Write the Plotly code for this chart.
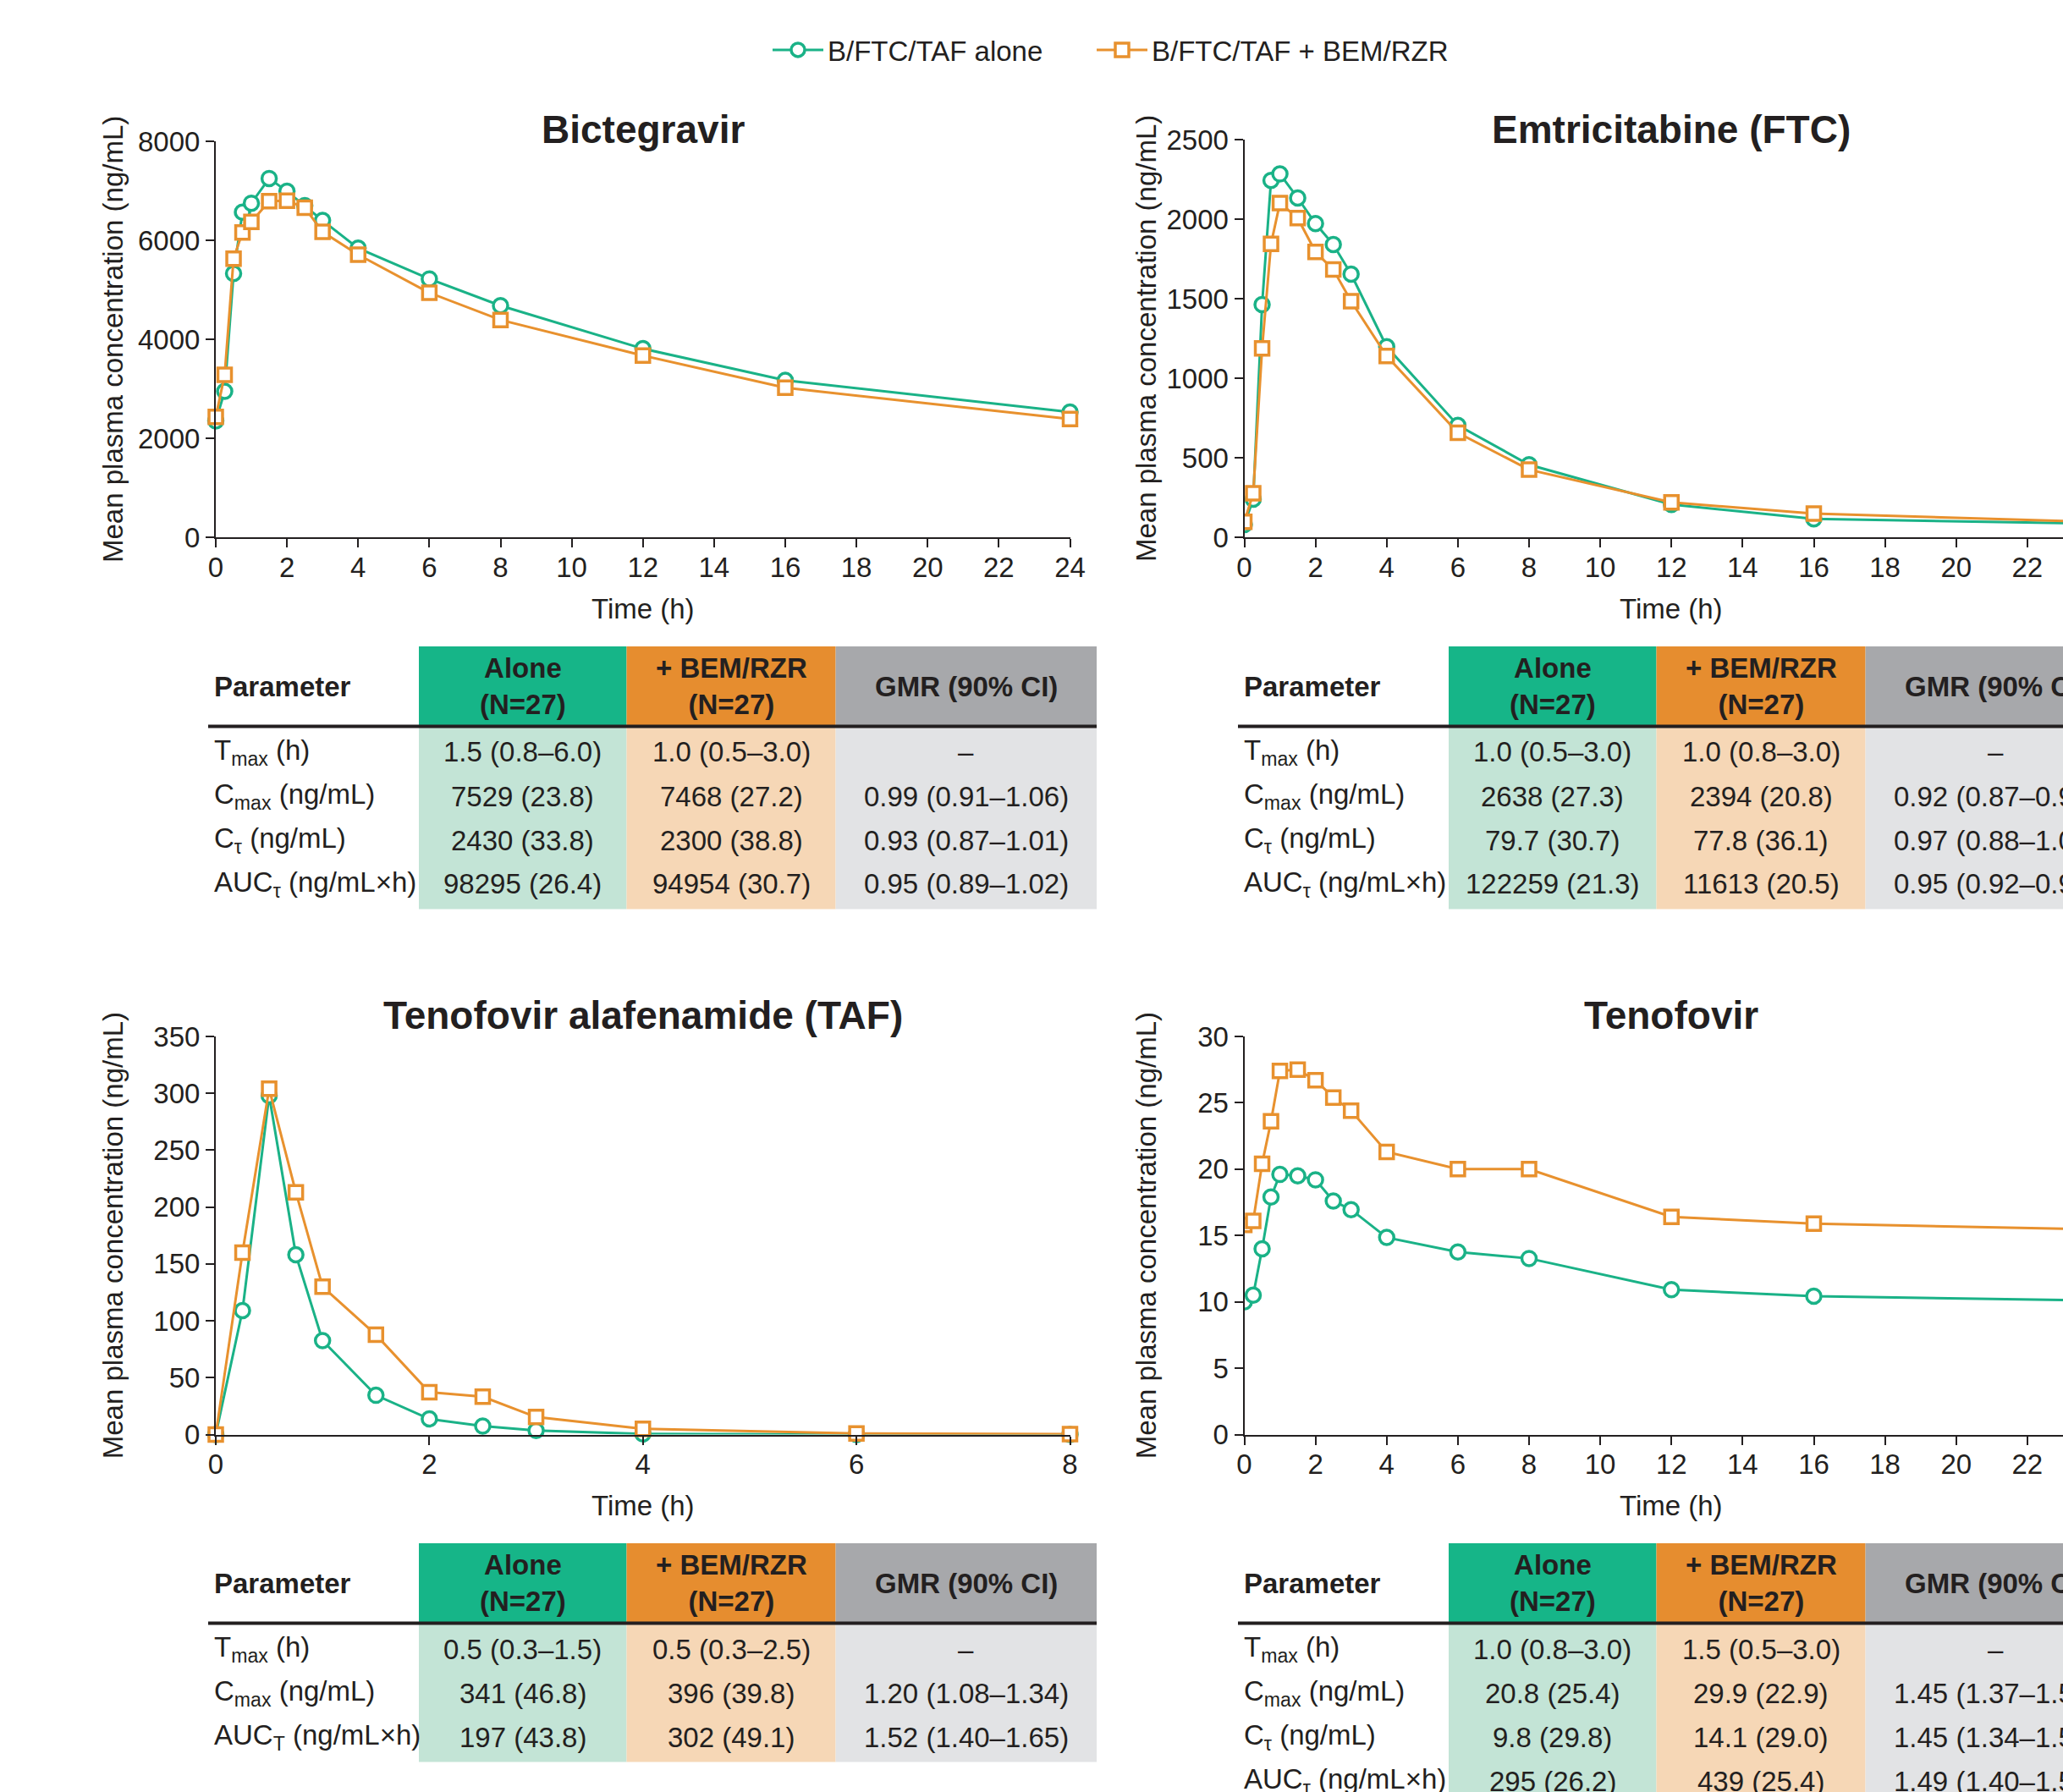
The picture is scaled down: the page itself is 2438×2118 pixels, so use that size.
import plotly.graph_objects as go

# ---------------- data ----------------
time_24 = [0, 0.25, 0.5, 0.75, 1, 1.5, 2, 2.5, 3, 4, 6, 8, 12, 16, 24]
time_8 = [0, 0.25, 0.5, 0.75, 1, 1.5, 2, 2.5, 3, 4, 6, 8]

bic_alone = [2350, 2950, 5330, 6570, 6750, 7250, 6990, 6700, 6400, 5840, 5220, 4680, 3810, 3170, 2530]
bic_bem = [2430, 3280, 5630, 6160, 6370, 6790, 6800, 6660, 6170, 5710, 4940, 4390, 3670, 3020, 2390]

ftc_alone = [80, 239, 1463, 2243, 2284, 2133, 1972, 1840, 1654, 1198, 704, 456, 206, 116, 85]
ftc_bem = [97, 276, 1188, 1844, 2101, 2007, 1794, 1683, 1484, 1139, 657, 425, 219, 149, 95]

taf_alone = [0, 109, 298, 158, 82.6, 34.5, 13.7, 7.4, 3.5, 0.5, 0, 0]
taf_bem = [0, 160, 304, 213, 130, 87.7, 37.2, 33.3, 15.4, 5, 1, 0.3]

tfv_alone = [10.0, 10.5, 14.0, 17.9, 19.6, 19.5, 19.2, 17.6, 16.95, 14.85, 13.76, 13.27, 10.92, 10.42, 10.1]
tfv_bem = [15.8, 16.1, 20.4, 23.6, 27.4, 27.5, 26.7, 25.4, 24.4, 21.3, 20.0, 20.0, 16.4, 15.9, 15.45]

series_names = ["B/FTC/TAF alone", "B/FTC/TAF + BEM/RZR"]
panel_titles = ["Bictegravir", "Emtricitabine (FTC)", "Tenofovir alafenamide (TAF)", "Tenofovir"]
y_ticks_bic = [0, 2000, 4000, 6000, 8000]
y_ticks_ftc = [0, 500, 1000, 1500, 2000, 2500]
y_ticks_taf = [0, 50, 100, 150, 200, 250, 300, 350]
y_ticks_tfv = [0, 5, 10, 15, 20, 25, 30]
x_ticks_24 = list(range(0, 25, 2))
x_ticks_8 = [0, 2, 4, 6, 8]
x_title = "Time (h)"
y_title = "Mean plasma concentration (ng/mL)"

hdr_labels = ["Parameter", "Alone<br>(N=27)", "+ BEM/RZR<br>(N=27)", "GMR (90% CI)"]

bic_params = ["T<sub>max</sub> (h)", "C<sub>max</sub> (ng/mL)", "C<sub>τ</sub> (ng/mL)", "AUC<sub>τ</sub> (ng/mL×h)"]
bic_alone_tab = ["1.5 (0.8–6.0)", "7529 (23.8)", "2430 (33.8)", "98295 (26.4)"]
bic_bem_tab = ["1.0 (0.5–3.0)", "7468 (27.2)", "2300 (38.8)", "94954 (30.7)"]
bic_gmr_tab = ["–", "0.99 (0.91–1.06)", "0.93 (0.87–1.01)", "0.95 (0.89–1.02)"]

ftc_params = ["T<sub>max</sub> (h)", "C<sub>max</sub> (ng/mL)", "C<sub>τ</sub> (ng/mL)", "AUC<sub>τ</sub> (ng/mL×h)"]
ftc_alone_tab = ["1.0 (0.5–3.0)", "2638 (27.3)", "79.7 (30.7)", "122259 (21.3)"]
ftc_bem_tab = ["1.0 (0.8–3.0)", "2394 (20.8)", "77.8 (36.1)", "11613 (20.5)"]
ftc_gmr_tab = ["–", "0.92 (0.87–0.97)", "0.97 (0.88–1.07)", "0.95 (0.92–0.98)"]

taf_params = ["T<sub>max</sub> (h)", "C<sub>max</sub> (ng/mL)", "AUC<sub>T</sub> (ng/mL×h)"]
taf_alone_tab = ["0.5 (0.3–1.5)", "341 (46.8)", "197 (43.8)"]
taf_bem_tab = ["0.5 (0.3–2.5)", "396 (39.8)", "302 (49.1)"]
taf_gmr_tab = ["–", "1.20 (1.08–1.34)", "1.52 (1.40–1.65)"]

tfv_params = ["T<sub>max</sub> (h)", "C<sub>max</sub> (ng/mL)", "C<sub>τ</sub> (ng/mL)", "AUC<sub>τ</sub> (ng/mL×h)"]
tfv_alone_tab = ["1.0 (0.8–3.0)", "20.8 (25.4)", "9.8 (29.8)", "295 (26.2)"]
tfv_bem_tab = ["1.5 (0.5–3.0)", "29.9 (22.9)", "14.1 (29.0)", "439 (25.4)"]
tfv_gmr_tab = ["–", "1.45 (1.37–1.54)", "1.45 (1.34–1.57)", "1.49 (1.40–1.59)"]

# ---------------- styling ----------------
W, H = 2438, 2118
FONT = "Arial, 'Liberation Sans', Helvetica, sans-serif"
DARK = "#231F20"
GREEN = "#1AB287"
ORANGE = "#E8912E"
HDR = ["#FFFFFF", "#16B588", "#E68D2F", "#A7A8AB"]
BODY = ["#FFFFFF", "#C3E4D6", "#F6D7B6", "#E2E3E5"]
PLOT_W = 1009.5  # width of a full 24 h (or 8 h) axis in px


def X(px):
    return px / W


def Y(py):
    return 1 - py / H


panels = [
    dict(t=time_24, a=bic_alone, b=bic_bem, yt=y_ticks_bic, xt=x_ticks_24, xr=24,
         x0=255, top=167, bot=635, title_y=153, ytx=133,
         tab=(bic_params, bic_alone_tab, bic_bem_tab, bic_gmr_tab), tdx=0, tdy=0),
    dict(t=time_24, a=ftc_alone, b=ftc_bem, yt=y_ticks_ftc, xt=x_ticks_24, xr=24,
         x0=1470.5, top=165, bot=635, title_y=153, ytx=1354,
         tab=(ftc_params, ftc_alone_tab, ftc_bem_tab, ftc_gmr_tab), tdx=1217, tdy=0),
    dict(t=time_8, a=taf_alone, b=taf_bem, yt=y_ticks_taf, xt=x_ticks_8, xr=8,
         x0=255, top=1225, bot=1695.5, title_y=1200, ytx=133,
         tab=(taf_params, taf_alone_tab, taf_bem_tab, taf_gmr_tab), tdx=0, tdy=1060),
    dict(t=time_24, a=tfv_alone, b=tfv_bem, yt=y_ticks_tfv, xt=x_ticks_24, xr=24,
         x0=1470.5, top=1225, bot=1695.5, title_y=1200, ytx=1354,
         tab=(tfv_params, tfv_alone_tab, tfv_bem_tab, tfv_gmr_tab), tdx=1217, tdy=1060),
]

legend_common = dict(orientation="h", yanchor="middle", y=Y(59), xanchor="left",
                     font=dict(size=33, color=DARK, family=FONT), itemwidth=60,
                     bgcolor="rgba(0,0,0,0)")

fig = go.Figure()
layout = dict(
    width=W, height=H, margin=dict(l=0, r=0, t=0, b=0, autoexpand=False),
    paper_bgcolor="white", plot_bgcolor="white",
    font=dict(family=FONT, color=DARK, size=33),
    showlegend=True,
    legend=dict(x=X(908), **legend_common),
    legend2=dict(x=X(1291), **legend_common),
)
annotations = []
shapes = []

for i, p in enumerate(panels):
    n = "" if i == 0 else str(i + 1)
    xa, ya = "x" + n, "y" + n
    x0 = p["x0"]
    full_x1 = x0 + PLOT_W
    x1 = min(full_x1, W)              # the page cuts the right-hand panels
    x_hi = p["xr"] * (x1 - x0) / PLOT_W
    ymax = p["yt"][-1]
    axis_common = dict(showline=True, linecolor=DARK, linewidth=2, ticks="outside",
                       ticklen=10, tickwidth=2, tickcolor=DARK,
                       tickfont=dict(size=33, color=DARK, family=FONT),
                       showgrid=False, zeroline=False)
    layout["xaxis" + n] = dict(domain=[X(x0), X(x1)], range=[0, x_hi], tickvals=p["xt"],
                               anchor=ya, ticklabelstandoff=-5, **axis_common)
    layout["yaxis" + n] = dict(domain=[Y(p["bot"]), Y(p["top"])], range=[0, ymax],
                               tickvals=p["yt"], anchor=xa, **axis_common)

    fig.add_trace(go.Scatter(
        x=p["t"], y=p["a"], xaxis=xa, yaxis=ya, mode="lines+markers",
        name=series_names[0], showlegend=(i == 0), legend="legend",
        cliponaxis=(x1 < full_x1),
        line=dict(color=GREEN, width=3),
        marker=dict(symbol="circle", size=17, color="white", line=dict(color=GREEN, width=3.5))))
    fig.add_trace(go.Scatter(
        x=p["t"], y=p["b"], xaxis=xa, yaxis=ya, mode="lines+markers",
        name=series_names[1], showlegend=(i == 0), legend="legend2",
        cliponaxis=(x1 < full_x1),
        line=dict(color=ORANGE, width=3),
        marker=dict(symbol="square", size=16, color="white", line=dict(color=ORANGE, width=3.5))))

    cx = (x0 + full_x1) / 2
    annotations.append(dict(text="<b>%s</b>" % panel_titles[i], x=X(cx), y=Y(p["title_y"]),
                            xref="paper", yref="paper", showarrow=False,
                            xanchor="center", yanchor="middle",
                            font=dict(size=46, color=DARK, family=FONT)))
    annotations.append(dict(text=x_title, x=X(cx), y=Y(p["bot"] + 84), xref="paper", yref="paper",
                            showarrow=False, xanchor="center", yanchor="middle",
                            font=dict(size=33, color=DARK, family=FONT)))
    annotations.append(dict(text=y_title, x=X(p["ytx"]), y=Y((p["top"] + p["bot"]) / 2),
                            xref="paper", yref="paper", showarrow=False, textangle=-90,
                            xanchor="center", yanchor="middle",
                            font=dict(size=33, color=DARK, family=FONT)))

    # ---- table ----
    tdx = p["tdx"]
    cols = [246 + tdx, 495 + tdx, 740.5 + tdx, 987.6 + tdx, 1296 + tdx]
    ttop = 764 + p["tdy"]
    tline = 858.5 + p["tdy"]
    params, c1, c2, c3 = p["tab"]
    nrows = len(params)
    tbot = tline + 52 * nrows + 8
    for c in range(1, 4):
        shapes.append(dict(type="rect", xref="paper", yref="paper",
                           x0=X(cols[c]), x1=X(cols[c + 1]), y0=Y(tline), y1=Y(ttop),
                           fillcolor=HDR[c], line=dict(width=0), layer="below"))
        shapes.append(dict(type="rect", xref="paper", yref="paper",
                           x0=X(cols[c]), x1=X(cols[c + 1]), y0=Y(tbot), y1=Y(tline),
                           fillcolor=BODY[c], line=dict(width=0), layer="below"))
    shapes.append(dict(type="line", xref="paper", yref="paper",
                       x0=X(cols[0]), x1=X(cols[4]), y0=Y(tline), y1=Y(tline),
                       line=dict(color=DARK, width=4)))
    hy = (ttop + tline) / 2
    annotations.append(dict(text="<b>%s</b>" % hdr_labels[0], x=X(cols[0] + 5), y=Y(hy),
                            xref="paper", yref="paper", showarrow=False, xanchor="left",
                            yanchor="middle", font=dict(size=33, color=DARK, family=FONT)))
    for c in range(1, 4):
        annotations.append(dict(text="<b>%s</b>" % hdr_labels[c].replace("<br>", "</b><br><b>"),
                                x=X((cols[c] + cols[c + 1]) / 2), y=Y(hy),
                                xref="paper", yref="paper", showarrow=False, xanchor="center",
                                yanchor="middle", font=dict(size=33, color=DARK, family=FONT)))
    for r in range(nrows):
        ry = tline + 30.5 + 52 * r
        annotations.append(dict(text=params[r], x=X(cols[0] + 5), y=Y(ry), xref="paper",
                                yref="paper", showarrow=False, xanchor="left", yanchor="middle",
                                font=dict(size=33, color=DARK, family=FONT)))
        for c, vals in zip(range(1, 4), (c1, c2, c3)):
            annotations.append(dict(text=vals[r], x=X((cols[c] + cols[c + 1]) / 2), y=Y(ry),
                                    xref="paper", yref="paper", showarrow=False,
                                    xanchor="center", yanchor="middle",
                                    font=dict(size=33, color=DARK, family=FONT)))

layout["annotations"] = annotations
layout["shapes"] = shapes
fig.update_layout(**layout)

fig.write_html("out.html",
               config={"displayModeBar": False, "responsive": False},
               post_script="document.body.style.margin='0';document.body.style.overflow='hidden';")
